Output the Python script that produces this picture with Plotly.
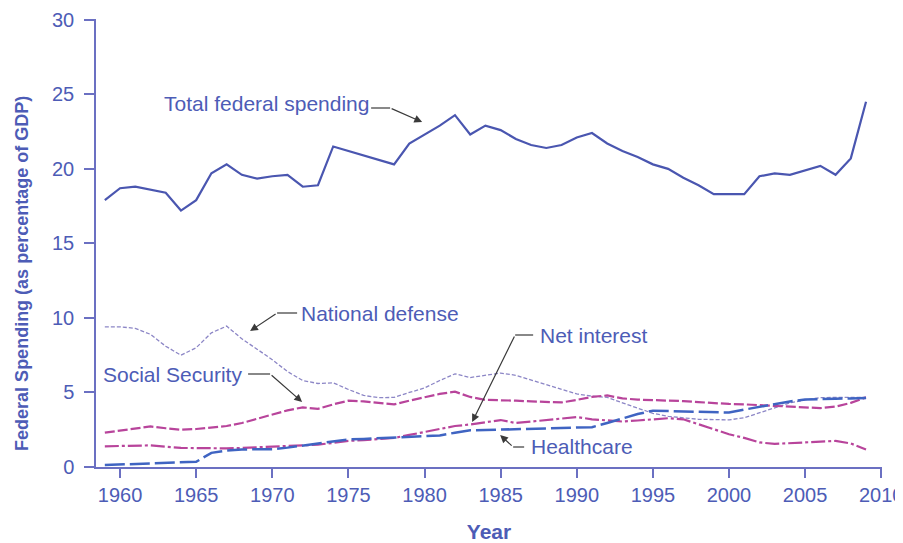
import plotly.graph_objects as go

years = list(range(1959, 2010))

total_spending = [17.9, 18.7, 18.8, 18.6, 18.4, 17.2, 17.9, 19.7, 20.3, 19.6,
                  19.35, 19.5, 19.6, 18.8, 18.9, 21.5, 21.2, 20.9, 20.6, 20.3,
                  21.7, 22.3, 22.9, 23.6, 22.3, 22.9, 22.6, 22.0, 21.6, 21.4,
                  21.6, 22.1, 22.4, 21.7, 21.2, 20.8, 20.3, 20.0, 19.4, 18.9,
                  18.3, 18.3, 18.3, 19.5, 19.7, 19.6, 19.9, 20.2, 19.6, 20.7,
                  24.5]

national_defense = [9.4, 9.4, 9.3, 8.9, 8.1, 7.5, 8.0, 9.0, 9.45, 8.6,
                    7.9, 7.2, 6.4, 5.8, 5.6, 5.65, 5.2, 4.8, 4.65, 4.67,
                    5.0, 5.3, 5.8, 6.25, 6.0, 6.15, 6.3, 6.15, 5.85, 5.55,
                    5.2, 4.9, 4.75, 4.67, 4.3, 3.95, 3.6, 3.4, 3.28, 3.2,
                    3.18, 3.16, 3.3, 3.65, 4.0, 4.3, 4.5, 4.65, 4.67, 4.67,
                    4.67]

social_security = [2.3, 2.45, 2.6, 2.72, 2.6, 2.5, 2.55, 2.65, 2.75, 2.95,
                   3.25, 3.55, 3.8, 4.0, 3.9, 4.2, 4.45, 4.4, 4.3, 4.2,
                   4.45, 4.7, 4.9, 5.05, 4.7, 4.5, 4.49, 4.45, 4.4, 4.35,
                   4.33, 4.5, 4.7, 4.8, 4.6, 4.52, 4.5, 4.47, 4.42, 4.35,
                   4.28, 4.23, 4.2, 4.15, 4.11, 4.05, 4.0, 3.95, 4.05, 4.3,
                   4.67]

net_interest = [1.39, 1.42, 1.44, 1.45, 1.36, 1.28, 1.27, 1.25, 1.25, 1.28,
                1.32, 1.37, 1.4, 1.44, 1.5, 1.62, 1.75, 1.8, 1.87, 1.95,
                2.15, 2.35, 2.58, 2.75, 2.85, 3.0, 3.15, 2.95, 3.05, 3.15,
                3.25, 3.35, 3.2, 3.1, 3.05, 3.12, 3.2, 3.27, 3.2, 2.85,
                2.5, 2.2, 1.95, 1.65, 1.55, 1.6, 1.67, 1.72, 1.75, 1.58,
                1.17]

healthcare = [0.13, 0.17, 0.2, 0.24, 0.28, 0.32, 0.35, 0.95, 1.1, 1.18,
              1.19, 1.19, 1.3, 1.45, 1.6, 1.75, 1.85, 1.88, 1.92, 1.97,
              2.02, 2.07, 2.12, 2.3, 2.46, 2.48, 2.5, 2.52, 2.55, 2.58,
              2.61, 2.64, 2.67, 2.95, 3.25, 3.55, 3.78, 3.75, 3.72, 3.68,
              3.63, 3.65, 3.85, 4.05, 4.25, 4.4, 4.52, 4.57, 4.58, 4.6,
              4.62]

x_ticks = [1960, 1965, 1970, 1975, 1980, 1985, 1990, 1995, 2000, 2005, 2010]
y_ticks = [0, 5, 10, 15, 20, 25, 30]

BLUE_TXT = "#4d5cb6"
AXIS = "#6b70c2"
FONT = "Liberation Sans, Arial, sans-serif"

fig = go.Figure()
fig.add_trace(go.Scatter(x=years, y=national_defense, mode="lines",
                         line=dict(color="#8c86c6", width=1.3, dash="4px,2px"),
                         name="National defense"))
fig.add_trace(go.Scatter(x=years, y=social_security, mode="lines",
                         line=dict(color="#b8449b", width=2.2, dash="10px,3px"),
                         name="Social Security"))
fig.add_trace(go.Scatter(x=years, y=net_interest, mode="lines",
                         line=dict(color="#b8449b", width=2.2, dash="14px,3px,3px,3px"),
                         name="Net interest"))
fig.add_trace(go.Scatter(x=years, y=healthcare, mode="lines",
                         line=dict(color="#3f64c2", width=2.5, dash="20px,5px"),
                         name="Healthcare"))
fig.add_trace(go.Scatter(x=years, y=total_spending, mode="lines",
                         line=dict(color="#4a56b0", width=2.2),
                         name="Total federal spending"))

# plot area in page pixels: x 96..881, y 19..467
TOP_PX = 19.0
YSCALE = (467 - TOP_PX) / 30.05


def px2x(px):
    return 1960 + (px - 120) / 15.22


def px2y(py):
    return (467 - py) / YSCALE


labels = [
    # text, text center px, segment (x0,x1,y) px, arrow head px, arrow tail px
    ("Total federal spending", (266, 103), (371, 390, 108), (422, 122), (390, 108)),
    ("National defense", (380, 313), (297, 277, 313), (250, 331), (277, 313)),
    ("Social Security", (172, 374), (248, 270, 374), (302, 402), (270, 374)),
    ("Net interest", (594, 335), (533, 515, 335), (472, 422), (515, 335)),
    ("Healthcare", (582, 446), (524, 513, 447), (500, 435), (513, 447)),
]

for text, (tx, ty), (sx0, sx1, sy), (hx, hy), (ax, ay) in labels:
    fig.add_annotation(x=px2x(tx), y=px2y(ty), text=text, showarrow=False,
                       xanchor="center", yanchor="middle",
                       font=dict(family=FONT, size=21, color=BLUE_TXT))
    fig.add_shape(type="line", x0=px2x(sx0), x1=px2x(sx1), y0=px2y(sy), y1=px2y(sy),
                  line=dict(color="#3a3a3a", width=1.2))
    fig.add_annotation(x=px2x(hx), y=px2y(hy), text="", showarrow=True,
                       ax=ax - hx, ay=ay - hy, arrowhead=2, arrowsize=1.3,
                       arrowwidth=1.2, arrowcolor="#3a3a3a")

fig.add_annotation(xref="paper", yref="paper", x=(22 - 96) / 785,
                   y=(467 - 273) / (467 - TOP_PX),
                   text="<b>Federal Spending (as percentage of GDP)</b>", textangle=-90,
                   showarrow=False, xanchor="center", yanchor="middle",
                   font=dict(family=FONT, size=18, color=BLUE_TXT))

fig.update_layout(
    width=900, height=535,
    margin=dict(l=88, r=26, t=11, b=76, autoexpand=False),
    paper_bgcolor="white", plot_bgcolor="white",
    showlegend=False,
    font=dict(family=FONT, color=BLUE_TXT),
)
fig.update_xaxes(range=[1958.42, 2010.05], tickvals=x_ticks, ticks="outside", ticklen=9,
                 tickcolor=AXIS, tickwidth=1.5, showline=True, linecolor=AXIS, linewidth=1.5,
                 showgrid=False, zeroline=False, automargin=False, ticklabeloverflow="allow",
                 tickfont=dict(family=FONT, size=20, color=BLUE_TXT),
                 title=dict(text="<b>Year</b>", font=dict(family=FONT, size=21, color=BLUE_TXT),
                            standoff=20))
fig.update_yaxes(range=[0, 30.05], tickvals=y_ticks, ticks="outside", ticklen=10,
                 tickcolor=AXIS, tickwidth=1.5, showline=True, linecolor=AXIS, linewidth=1.5,
                 showgrid=False, zeroline=False, ticklabelstandoff=6, automargin=False,
                 ticklabeloverflow="allow",
                 tickfont=dict(family=FONT, size=20, color=BLUE_TXT))

fig.write_html("out.html")
